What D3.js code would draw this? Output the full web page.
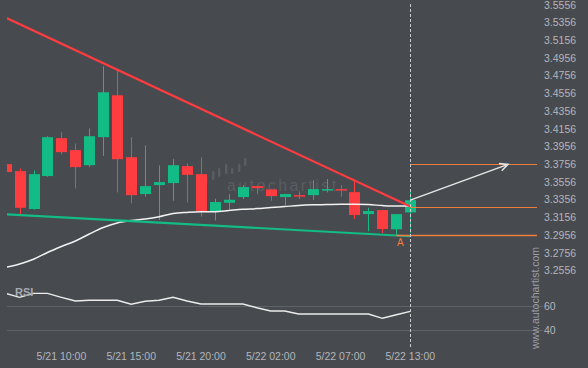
<!DOCTYPE html>
<html><head><meta charset="utf-8">
<script src="https://cdn.jsdelivr.net/npm/d3@7"></script>
<style>
html,body{margin:0;padding:0;background:#474a4f;}
svg{display:block;}
text{font-family:"Liberation Sans",Arial,sans-serif;}
</style></head>
<body>
<svg id="chart" width="588" height="368"></svg>
<script>
// ---- data ----
const opens  = [3.3759,3.3680,3.3252,3.3624,3.4052,3.3917,3.3747,3.4063,3.4536,3.3837,3.3421,3.3522,3.3545,3.3736,3.3646,3.3218,3.3323,3.3387,3.3511,3.3474,3.3387,3.3409,3.3409,3.3466,3.3477,3.3443,3.3195,3.3240,3.3023,3.3214];
const highs  = [3.3765,3.3710,3.3688,3.4074,3.4119,3.3992,3.4161,3.4863,3.4826,3.4063,3.3970,3.3744,3.3815,3.3767,3.3834,3.3368,3.3421,3.3522,3.3515,3.3476,3.3423,3.3451,3.3579,3.3590,3.3522,3.3567,3.3266,3.3240,3.3195,3.3474];
const lows   = [3.3665,3.3192,3.3244,3.3616,3.3868,3.3485,3.3725,3.3852,3.3440,3.3316,3.3390,3.3128,3.3345,3.3325,3.3165,3.3124,3.3248,3.3364,3.3421,3.3345,3.3297,3.3364,3.3356,3.3440,3.3390,3.3139,3.3000,3.2981,3.2959,3.2978];
const closes = [3.3669,3.3266,3.3646,3.4063,3.3894,3.3725,3.4074,3.4570,3.3815,3.3409,3.3511,3.3556,3.3747,3.3638,3.3229,3.3331,3.3357,3.3500,3.3488,3.3398,3.3421,3.3398,3.3477,3.3477,3.3466,3.3184,3.3229,3.3026,3.3195,3.3353];
const maValues = [3.2593,3.2632,3.2685,3.2762,3.2829,3.2891,3.2970,3.3043,3.3094,3.3122,3.3139,3.3165,3.3201,3.3214,3.3221,3.3221,3.3235,3.3249,3.3257,3.3269,3.3280,3.3292,3.3299,3.3302,3.3305,3.3305,3.3302,3.3291,3.3285,3.3285];
const rsiValues = [70.8,67.5,70.8,70.8,67.5,64.4,65.0,65.0,65.0,61.7,64.2,65.0,67.5,64.4,61.9,61.9,61.9,61.9,58.8,56.1,56.1,53.6,53.6,53.6,53.6,53.6,53.6,50.0,53.0,55.8];
const priceTicks = ["3.5556","3.5356","3.5156","3.4956","3.4756","3.4556","3.4356","3.4156","3.3956","3.3756","3.3556","3.3356","3.3156","3.2956","3.2756","3.2556"];
const rsiTicks = [60, 40];
const xTickIndex = [4, 9, 14, 19, 24, 29];
const xTickLabels = ["5/21 10:00","5/21 15:00","5/21 20:00","5/22 02:00","5/22 07:00","5/22 13:00"];
// pattern: resistance (red) and support (green) trend lines [index, price]
const resistance = [[0, 3.5412], [29, 3.3280]];
const support = [[0, 3.3193], [29, 3.2945]];
const targetPrice = 3.3756, breakPrice = 3.3276, lowPrice = 3.2956;
const breakIndex = 29, arrowEndIndex = 36, lowIndex = 28;

// ---- layout ----
const svg = d3.select("#chart");
const W = 588, H = 368;
const plotL = 7, plotR = 537, plotT = 0, plotB = 282;
const x = d3.scaleLinear().domain([0, 29]).range([5.6, 410.3]);
const y = d3.scaleLinear().domain([3.2556, 3.5556]).range([270.7, 4.9]);
const yr = d3.scaleLinear().domain([40, 60]).range([330.3, 306.3]);
const green = "#13bb85", red = "#ff3c3f", orange = "#ee7d3e", axisCol = "#b3b6bb";

svg.append("rect").attr("width", W).attr("height", H).attr("fill", "#474a4f");
svg.append("clipPath").attr("id","pc").append("rect")
  .attr("x", plotL).attr("y", plotT).attr("width", plotR-plotL).attr("height", plotB-plotT);

// watermark
const wm = svg.append("g").attr("fill", "#5a5d62");
const wmBars = [[198,180,186],[205,176,184],[212,171,180],[218,168,177],[225,164,174],[231,168,174],[238,164,172],[244,158,166]];
wm.selectAll("rect").data(wmBars).join("rect")
  .attr("x", d=>d[0]).attr("y", d=>d[1]).attr("width", 2.4).attr("height", d=>d[2]-d[1]).attr("rx", 1);
wm.append("text").attr("x", 227).attr("y", 191).attr("font-size", 16).attr("letter-spacing", 2.4)
  .text("autochartist");

const g = svg.append("g").attr("clip-path", "url(#pc)");

// candles
const idx = d3.range(opens.length);
const cw = 11;
g.append("g").selectAll("line").data(idx).join("line")
  .attr("x1", i=>Math.round(x(i))+0.5).attr("x2", i=>Math.round(x(i))+0.5)
  .attr("y1", i=>y(highs[i])).attr("y2", i=>y(lows[i]))
  .attr("stroke", i=>closes[i]>=opens[i]?green:red).attr("stroke-width", 1);
g.append("g").selectAll("rect").data(idx).join("rect")
  .attr("x", i=>Math.round(x(i))-5).attr("width", cw)
  .attr("y", i=>y(Math.max(opens[i],closes[i])))
  .attr("height", i=>Math.max(1.5, Math.abs(y(opens[i])-y(closes[i]))))
  .attr("fill", i=>closes[i]>=opens[i]?green:red);

// moving average
g.append("path").datum(idx)
  .attr("d", d3.line().x(i=>x(i)).y(i=>y(maValues[i])).curve(d3.curveMonotoneX))
  .attr("fill","none").attr("stroke","#f2f2f2").attr("stroke-width",1.5);

// trend lines
const tl = d3.line().x(d=>x(d[0])).y(d=>y(d[1]));
g.append("path").datum(resistance).attr("d", tl).attr("stroke", red).attr("stroke-width", 2.2).attr("fill","none");
g.append("path").datum(support).attr("d", tl).attr("stroke", green).attr("stroke-width", 2.2).attr("fill","none");

// orange level lines
const xEnd = plotR;
svg.append("line").attr("x1", x(breakIndex)).attr("x2", xEnd).attr("y1", Math.round(y(targetPrice))+0.5).attr("y2", Math.round(y(targetPrice))+0.5).attr("stroke", orange).attr("stroke-width",1);
svg.append("line").attr("x1", x(breakIndex)).attr("x2", xEnd).attr("y1", Math.round(y(breakPrice))+0.5).attr("y2", Math.round(y(breakPrice))+0.5).attr("stroke", orange).attr("stroke-width",1);
svg.append("line").attr("x1", x(lowIndex)).attr("x2", xEnd).attr("y1", Math.round(y(lowPrice))+0.5).attr("y2", Math.round(y(lowPrice))+0.5).attr("stroke", orange).attr("stroke-width",1.3);

// arrow
const ax0 = x(breakIndex), ay0 = y(closes[breakIndex]), ax1 = x(arrowEndIndex), ay1 = y(targetPrice);
svg.append("line").attr("x1", ax0).attr("y1", ay0).attr("x2", ax1).attr("y2", ay1).attr("stroke","#e6e6e6").attr("stroke-width",1.5);
const ang = Math.atan2(ay1-ay0, ax1-ax0);
const hl = 9;
svg.append("path").attr("d", `M${ax1-hl*Math.cos(ang-0.45)},${ay1-hl*Math.sin(ang-0.45)} L${ax1},${ay1} L${ax1-hl*Math.cos(ang+0.45)},${ay1-hl*Math.sin(ang+0.45)}`)
  .attr("fill","none").attr("stroke","#e6e6e6").attr("stroke-width",1.5);

// "A" label
svg.append("text").attr("x", x(lowIndex)+4).attr("y", y(lowPrice)+11).attr("text-anchor","middle")
  .attr("font-size", 10).attr("fill", orange).text("A");

// RSI gridlines
svg.append("g").selectAll("line").data(rsiTicks).join("line")
  .attr("x1", plotL).attr("x2", 543).attr("y1", d=>Math.round(yr(d))+0.5).attr("y2", d=>Math.round(yr(d))+0.5)
  .attr("stroke","#5f6267").attr("stroke-width",1);
// RSI line
svg.append("clipPath").attr("id","pc2").append("rect").attr("x", plotL).attr("y", 283).attr("width", plotR-plotL).attr("height", 60);
svg.append("path").datum(idx)
  .attr("d", d3.line().x(i=>x(i)).y(i=>yr(rsiValues[i])))
  .attr("clip-path","url(#pc2)")
  .attr("fill","none").attr("stroke","#ececec").attr("stroke-width",1.4);
svg.append("text").attr("x", 15).attr("y", 296).attr("font-size", 11).attr("font-weight","bold").attr("fill","#a7abb1").text("RSI");

// vertical dashed line
svg.append("line").attr("x1", Math.round(x(breakIndex))+0.5).attr("x2", Math.round(x(breakIndex))+0.5).attr("y1", 4).attr("y2", 348)
  .attr("stroke","#c9cbce").attr("stroke-width",1).attr("stroke-dasharray","3,2");

// y axis labels
svg.append("g").selectAll("text").data(priceTicks).join("text")
  .attr("x", 544).attr("y", d=>y(+d)).attr("dy","0.35em").attr("font-size", 10.5).attr("fill", axisCol).text(d=>d);
svg.append("g").selectAll("text").data(rsiTicks).join("text")
  .attr("x", 544).attr("y", d=>yr(d)).attr("dy","0.35em").attr("font-size", 10.5).attr("fill", axisCol).text(d=>d);

// x axis labels
svg.append("g").selectAll("text").data(xTickIndex).join("text")
  .attr("x", i=>x(i)).attr("y", 360).attr("text-anchor","middle").attr("font-size", 10.5).attr("fill", axisCol)
  .text((d,k)=>xTickLabels[k]);

// vertical watermark
svg.append("text").attr("transform","translate(539,298) rotate(-90)").attr("text-anchor","middle")
  .attr("font-size", 10.5).attr("fill","#9a9ea4").text("www.autochartist.com");
</script>
</body></html>
